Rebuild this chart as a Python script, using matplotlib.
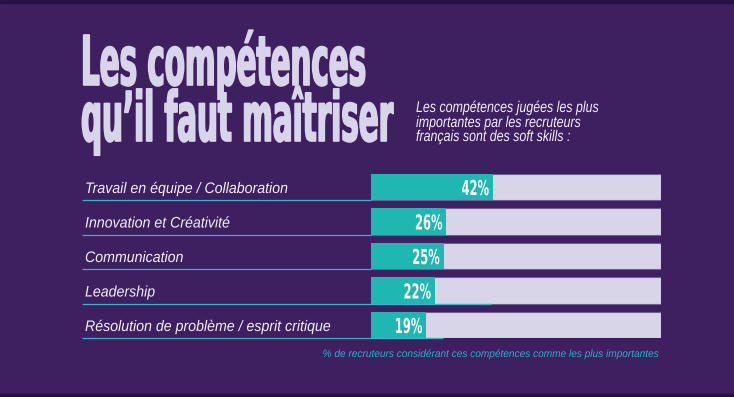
import matplotlib
matplotlib.use("Agg")
import matplotlib.pyplot as plt
from matplotlib.patches import Rectangle
from matplotlib.patheffects import AbstractPathEffect
from matplotlib.transforms import Affine2D, blended_transform_factory

# data
skills = ["Travail en équipe / Collaboration", "Innovation et Créativité",
          "Communication", "Leadership", "Résolution de problème / esprit critique"]
shares = [42, 26, 25, 22, 19]
full = [100, 100, 100, 100, 100]
title_lines = ["Les compétences", "qu\u2019il faut maîtriser"]
subtitle_lines = ["Les compétences jugées les plus", "importantes par les recruteurs",
                  "français sont des soft skills :"]
footnote = "% de recruteurs considérant ces compétences comme les plus importantes"

BG = "#3e1f5f"
EDGE = "#2a1044"
LAV = "#d8d5e8"
TEAL = "#20b6b2"
CYAN = "#33b4cf"
TITLE_C = "#d8d4ea"
W, H = 734, 397


class Stretch(AbstractPathEffect):
    """scale glyphs around an anchor point (display px), optional thickening stroke"""
    def __init__(self, sx=1.0, sy=1.0, anchor=(0.0, 0.0), lw=0.0):
        super().__init__()
        self.sx, self.sy, self.anchor, self.lw = sx, sy, anchor, lw

    def draw_path(self, renderer, gc, tpath, affine, rgbFace=None):
        x0, y0 = self.anchor
        aff = affine + Affine2D().translate(-x0, -y0).scale(self.sx, self.sy).translate(x0, y0)
        gc0 = renderer.new_gc()
        gc0.copy_properties(gc)
        if self.lw:
            gc0.set_linewidth(self.lw)
            gc0.set_foreground(rgbFace)
            gc0.set_joinstyle("round")
        renderer.draw_path(gc0, tpath, aff, rgbFace)
        gc0.restore()


def fy(y):
    return 1 - y / H


fig = plt.figure(figsize=(W / 100, H / 100), dpi=100, facecolor=BG)
fig.patches.append(Rectangle((0, fy(3)), 1, 3 / H, transform=fig.transFigure, color=EDGE))
fig.patches.append(Rectangle((0, 0), 1, 3 / H, transform=fig.transFigure, color=EDGE))

ax = fig.add_axes([371 / W, fy(338), 290 / W, 164 / H])
h = 0.754
rows = range(len(skills))
ax.barh(rows, full, height=h, color=LAV, edgecolor="#6f5f95", linewidth=0.8, zorder=1)
ax.barh(rows, shares, height=h, color=TEAL, linewidth=0, zorder=2)
ax.set_xlim(0, 100)
ax.set_ylim(len(skills) - 1 + h / 2, -h / 2)
ax.axis("off")

blend = blended_transform_factory(fig.transFigure, ax.transData)
line_end = [371, 371, 371, 491, 443]
px_per_row = 164 / (len(skills) - 1 + h)

labels, pcts = [], []
for i, (name, v) in enumerate(zip(skills, shares)):
    ax.plot([82 / W, line_end[i] / W], [i + h / 2, i + h / 2], transform=blend,
            color=CYAN, lw=0.9, clip_on=False, zorder=3, solid_capstyle="butt")
    labels.append(ax.text(85 / W, i + h / 2 - 7 / px_per_row, name, transform=blend,
                          family="Liberation Sans", style="italic", fontsize=11,
                          color="#f2f0f8", va="baseline", ha="left"))
    pcts.append(ax.text(v - 1.3, i + h / 2 - 5 / px_per_row, f"{v}%", family="DejaVu Sans",
                        weight="bold", fontsize=14.8, color="white", va="baseline",
                        ha="right", zorder=4))

titles = []
for line, base in zip(title_lines, [85, 141]):
    titles.append(fig.text(81 / W, fy(base), line, family="DejaVu Sans", weight="bold",
                           stretch="condensed", fontsize=49.4, color=TITLE_C, va="baseline"))

subs = []
for line, base in zip(subtitle_lines, [112, 127, 141]):
    subs.append(fig.text(416 / W, fy(base), line, family="Liberation Sans", style="italic",
                         fontsize=11.2, color="#f2f0f8", va="baseline"))

foot = fig.text(661 / W, fy(357), footnote, family="Liberation Sans", style="italic",
                fontsize=7.6, color="#2ab0c8", va="baseline", ha="right")

fig.canvas.draw()
r = fig.canvas.get_renderer()


def condense(group, s, side="left", lw=0.0):
    # shrink the font by s, then stretch glyphs back vertically so they read as a narrow face
    size = group[0].get_fontsize()
    for t in group:
        t.set_fontsize(size * s)
    fig.canvas.draw()
    for t in group:
        bb = t.get_window_extent(r)
        yb = t.get_transform().transform(t.get_position())[1]
        t.set_path_effects([Stretch(1.0, 1.0 / s, (bb.x0 if side == "left" else bb.x1, yb), lw)])


def ratio(t, width):
    return width / t.get_window_extent(r).width


condense(titles, ratio(titles[0], 285), lw=1.2)
condense(labels, ratio(labels[0], 203))
condense(subs, ratio(subs[0], 182))
condense([foot], ratio(foot, 335), side="right")
condense(pcts, 0.56, side="right")

fig.savefig("out.png", dpi=100, facecolor=BG)
